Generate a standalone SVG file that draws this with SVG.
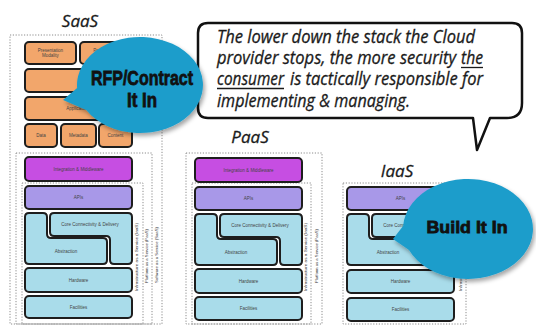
<svg xmlns="http://www.w3.org/2000/svg" width="536" height="327" viewBox="0 0 536 327">
<defs>
<style>
.bx{stroke:#1e1e1e;stroke-width:2;}
.or{fill:#f2a66b;}
.mg{fill:#c64ee2;}
.ap{fill:#a898e8;}
.lb{fill:#a9dcea;}
.dot{fill:none;stroke:#8c8c8c;stroke-width:1;stroke-dasharray:1.2 1.6;}
.sm{font-family:"Liberation Sans",Arial,sans-serif;font-size:4.5px;fill:#444;text-anchor:middle;}
.vl{font-family:"Liberation Sans",Arial,sans-serif;font-size:4px;fill:#333;text-anchor:middle;}
.ttl{font-family:"Open Sans","DejaVu Sans",sans-serif;font-style:italic;font-size:17px;fill:#1a1a1a;text-anchor:middle;stroke:#1a1a1a;stroke-width:0.3;}
.sp{font-family:"Open Sans","DejaVu Sans",sans-serif;font-style:italic;font-size:18px;fill:#1a1a1a;stroke:#1a1a1a;stroke-width:0.3;}
.bt{font-family:"Liberation Sans",Arial,sans-serif;font-weight:bold;fill:#111;text-anchor:middle;stroke:#111;stroke-width:0.8;}
.bub{fill:#1f9dcb;}
</style>
<filter id="sh" x="-20%" y="-20%" width="150%" height="150%">
<feDropShadow dx="2" dy="3" stdDeviation="2" flood-color="#000" flood-opacity="0.35"/>
</filter>
</defs>
<rect width="536" height="327" fill="#ffffff"/>

<!-- Titles -->
<text class="ttl" x="80" y="27">SaaS</text>
<text class="ttl" x="250" y="143">PaaS</text>
<text class="ttl" x="397" y="177">IaaS</text>

<!-- SaaS panel -->
<g id="saas-frames">
<rect class="dot" x="10" y="35" width="152" height="289"/>
<rect class="dot" x="16" y="153" width="136" height="171"/>
<rect class="dot" x="22" y="183" width="121" height="141"/>
<text class="vl" transform="translate(137.5,257) rotate(-90)" textLength="68" lengthAdjust="spacingAndGlyphs">Infrastructure as a Service (IaaS)</text>
<text class="vl" transform="translate(147.5,256) rotate(-90)" textLength="54" lengthAdjust="spacingAndGlyphs">Platform as a Service (PaaS)</text>
<text class="vl" transform="translate(157.5,255) rotate(-90)" textLength="56" lengthAdjust="spacingAndGlyphs">Software as a Service (SaaS)</text>
</g>
<g id="saas-presentation-modality"><rect class="bx or" x="25" y="42" width="51" height="22" rx="4"/><text class="sm" x="50.5" y="51.5">Presentation</text><text class="sm" x="50.5" y="57">Modality</text></g>
<g id="saas-presentation-platform"><rect class="bx or" x="80" y="42" width="52" height="22" rx="4"/><text class="sm" x="106" y="51.5">Presentation</text><text class="sm" x="106" y="57">Platform</text></g>
<g id="saas-row2"><rect class="bx or" x="25" y="69" width="107" height="23" rx="4"/></g>
<g id="saas-applications"><rect class="bx or" x="25" y="97" width="107" height="23" rx="4"/><text class="sm" x="78.5" y="110">Applications</text></g>
<g id="saas-data"><rect class="bx or" x="25" y="124" width="32" height="23" rx="4"/><text class="sm" x="41" y="137">Data</text></g>
<g id="saas-metadata"><rect class="bx or" x="61" y="124" width="35" height="23" rx="4"/><text class="sm" x="78.5" y="137">Metadata</text></g>
<g id="saas-content"><rect class="bx or" x="99" y="124" width="33" height="23" rx="4"/><text class="sm" x="115.5" y="137">Content</text></g>

<g id="saas-stack">
<g id="saas-integration"><rect class="bx mg" x="25" y="157" width="107" height="24" rx="4"/><text class="sm" x="78.5" y="170.5">Integration &amp; Middleware</text></g>
<g id="saas-apis"><rect class="bx ap" x="25" y="186" width="107" height="23" rx="4"/><text class="sm" x="78.5" y="199">APIs</text></g>
<g id="saas-abstraction"><path class="bx lb" d="M29,213 H43 Q47,213 47,217 V234 Q47,238 51,238 H103 Q107,238 107,242 V260 Q107,264 103,264 H29 Q25,264 25,260 V217 Q25,213 29,213 Z"/><text class="sm" x="66" y="253">Abstraction</text></g>
<g id="saas-core"><path class="bx lb" d="M54,213 H128 Q132,213 132,217 V260 Q132,264 128,264 H114 Q110,264 110,260 V240 Q110,236 106,236 H54 Q50,236 50,232 V217 Q50,213 54,213 Z"/><text class="sm" x="90" y="226">Core Connectivity &amp; Delivery</text></g>
<g id="saas-hardware"><rect class="bx lb" x="25" y="268" width="107" height="24" rx="4"/><text class="sm" x="78.5" y="281.5">Hardware</text></g>
<g id="saas-facilities"><rect class="bx lb" x="25" y="296" width="107" height="22" rx="4"/><text class="sm" x="78.5" y="308.5">Facilities</text></g>
</g>

<!-- PaaS panel -->
<g id="paas-frames">
<rect class="dot" x="186" y="153" width="136" height="171"/>
<rect class="dot" x="192" y="183" width="119" height="141"/>
<text class="vl" transform="translate(307,257) rotate(-90)" textLength="68" lengthAdjust="spacingAndGlyphs">Infrastructure as a Service (IaaS)</text>
<text class="vl" transform="translate(317.5,256) rotate(-90)" textLength="54" lengthAdjust="spacingAndGlyphs">Platform as a Service (PaaS)</text>
</g>
<g id="paas-stack" transform="translate(170,1)">
<g id="paas-integration"><rect class="bx mg" x="25" y="157" width="107" height="24" rx="4"/><text class="sm" x="78.5" y="170.5">Integration &amp; Middleware</text></g>
<g id="paas-apis"><rect class="bx ap" x="25" y="186" width="107" height="23" rx="4"/><text class="sm" x="78.5" y="199">APIs</text></g>
<g id="paas-abstraction"><path class="bx lb" d="M29,213 H43 Q47,213 47,217 V234 Q47,238 51,238 H103 Q107,238 107,242 V260 Q107,264 103,264 H29 Q25,264 25,260 V217 Q25,213 29,213 Z"/><text class="sm" x="66" y="253">Abstraction</text></g>
<g id="paas-core"><path class="bx lb" d="M54,213 H128 Q132,213 132,217 V260 Q132,264 128,264 H114 Q110,264 110,260 V240 Q110,236 106,236 H54 Q50,236 50,232 V217 Q50,213 54,213 Z"/><text class="sm" x="90" y="226">Core Connectivity &amp; Delivery</text></g>
<g id="paas-hardware"><rect class="bx lb" x="25" y="268" width="107" height="24" rx="4"/><text class="sm" x="78.5" y="281.5">Hardware</text></g>
<g id="paas-facilities"><rect class="bx lb" x="25" y="296" width="107" height="23" rx="4"/><text class="sm" x="78.5" y="309">Facilities</text></g>
</g>

<!-- IaaS panel -->
<g id="iaas-frames">
<rect class="dot" x="343" y="183" width="123" height="141"/>
<text class="vl" transform="translate(461.5,257) rotate(-90)" textLength="68" lengthAdjust="spacingAndGlyphs">Infrastructure as a Service (IaaS)</text>
</g>
<g id="iaas-stack" transform="translate(322,1)">
<g id="iaas-apis"><rect class="bx ap" x="25" y="186" width="107" height="23" rx="4"/><text class="sm" x="78.5" y="199">APIs</text></g>
<g id="iaas-abstraction"><path class="bx lb" d="M29,213 H43 Q47,213 47,217 V234 Q47,238 51,238 H103 Q107,238 107,242 V260 Q107,264 103,264 H29 Q25,264 25,260 V217 Q25,213 29,213 Z"/><text class="sm" x="66" y="253">Abstraction</text></g>
<g id="iaas-core"><path class="bx lb" d="M54,213 H128 Q132,213 132,217 V260 Q132,264 128,264 H114 Q110,264 110,260 V240 Q110,236 106,236 H54 Q50,236 50,232 V217 Q50,213 54,213 Z"/><text class="sm" x="90" y="226">Core Connectivity &amp; Delivery</text></g>
<g id="iaas-hardware"><rect class="bx lb" x="25" y="269" width="107" height="23" rx="4"/><text class="sm" x="78.5" y="282">Hardware</text></g>
<g id="iaas-facilities"><rect class="bx lb" x="25" y="297" width="107" height="23" rx="4"/><text class="sm" x="78.5" y="310">Facilities</text></g>
</g>

<!-- Speech bubble -->
<g id="speech-bubble">
<path d="M208,23 H512 Q522,23 522,33 V103 Q522,118 507,118 H490 L477,150 L473,118 H208 Q198,118 198,108 V33 Q198,23 208,23 Z" fill="#ffffff" stroke="#111" stroke-width="2.5" stroke-linejoin="round"/>
<text class="sp" x="217" y="43" textLength="258" lengthAdjust="spacingAndGlyphs">The lower down the stack the Cloud</text>
<text class="sp" x="217" y="64" textLength="239" lengthAdjust="spacingAndGlyphs">provider stops, the more security</text>
<text class="sp" x="461" y="64" textLength="22" lengthAdjust="spacingAndGlyphs">the</text>
<line x1="461" y1="67.5" x2="483" y2="67.5" stroke="#1a1a1a" stroke-width="1.3"/>
<text class="sp" x="217" y="85" textLength="67" lengthAdjust="spacingAndGlyphs">consumer</text>
<line x1="217" y1="88.5" x2="284" y2="88.5" stroke="#1a1a1a" stroke-width="1.3"/>
<text class="sp" x="290" y="85" textLength="193" lengthAdjust="spacingAndGlyphs">is tactically responsible for</text>
<text class="sp" x="217" y="107" textLength="193" lengthAdjust="spacingAndGlyphs">implementing &amp; managing.</text>
</g>

<!-- RFP bubble -->
<g id="rfp-bubble">
<path class="bub" filter="url(#sh)" d="M77.1,88 L63,100 L86.2,110 A63 48 0 1 0 77.1,88 Z"/>
<text class="bt" x="142" y="85" font-size="21" textLength="102" lengthAdjust="spacingAndGlyphs">RFP/Contract</text>
<text class="bt" x="142" y="107" font-size="21" textLength="30" lengthAdjust="spacingAndGlyphs">It In</text>
</g>

<!-- Build It In bubble -->
<g id="build-bubble">
<path class="bub" filter="url(#sh)" d="M403.1,226 L393,239 L409,250 A65 50 0 1 0 403.1,226 Z"/>
<text class="bt" x="467" y="233" font-size="17" textLength="81" lengthAdjust="spacingAndGlyphs">Build It In</text>
</g>
</svg>
